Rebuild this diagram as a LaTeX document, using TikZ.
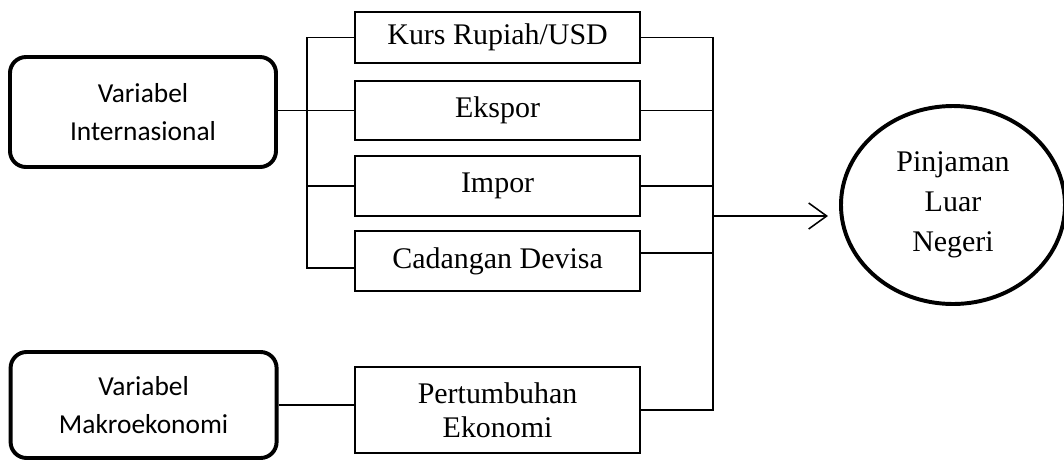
\documentclass[tikz,border=0pt]{standalone}
\usepackage{fontspec}
\setmainfont{Liberation Serif}
\newfontfamily\calibri{Carlito}
\usetikzlibrary{shapes.geometric,arrows.meta}

\begin{document}
\begin{tikzpicture}[
        var/.style={draw, line width=2.8pt, rounded corners=0.4cm, align=center,
            minimum width=6.65cm, font=\calibri\fontsize{19.5}{27}\selectfont},
        ind/.style={draw, line width=0.9pt, align=center, minimum width=7.125cm,
            font=\fontsize{21.3}{24.5}\selectfont},
        conn/.style={line width=1.1pt}
    ]
    \useasboundingbox (0,0) rectangle (26.6,-11.475);

    \node[var, minimum height=2.75cm] (intl) at (3.575, -2.8) {Variabel\\Internasional};
    \node[var, minimum height=2.65cm] (makro) at (3.59, -10.125) {Variabel\\Makroekonomi};

    \node[ind, minimum height=1.275cm] (kurs) at (12.44, -0.94) {Kurs Rupiah/USD};
    \node[ind, minimum height=1.475cm] (eks)  at (12.44, -2.76) {Ekspor};
    \node[ind, minimum height=1.5cm]   (imp)  at (12.44, -4.65) {Impor};
    \node[ind, minimum height=1.5cm]   (cad)  at (12.44, -6.525) {Cadangan Devisa};
    \node[ind, minimum height=2.15cm]  (pert) at (12.44, -10.25) {Pertumbuhan\\Ekonomi};

    \node[draw, ellipse, line width=2.8pt, inner sep=0pt, minimum width=5.6cm,
        minimum height=4.95cm, align=center, font=\fontsize{21.3}{28.5}\selectfont]
        (loan) at (23.825, -5.125) {Pinjaman\\Luar\\Negeri};

    \coordinate (busL) at (7.675, 0);
    \coordinate (busR) at (17.825, 0);
    \coordinate (tip)  at (20.7, -5.4);
    \coordinate (cadL) at ([yshift=-0.18cm]cad.west);
    \coordinate (cadR) at ([yshift=0.2cm]cad.east);

    \draw[conn] (intl.east |- eks.west) -- (eks.west);
    \draw[conn] (kurs.west) -- (kurs.west -| busL) -- (cadL -| busL) -- (cadL);
    \draw[conn] (imp.west) -- (imp.west -| busL);

    \draw[conn] (kurs.east) -- (kurs.east -| busR) -- (pert.east -| busR) -- (pert.east);
    \draw[conn] (eks.east) -- (eks.east -| busR);
    \draw[conn] (imp.east) -- (imp.east -| busR);
    \draw[conn] (cadR) -- (cadR -| busR);

    \draw[conn] (makro.east) -- (makro.east -| pert.west);
    \draw[conn, -{Straight Barb[length=4.5mm, width=6.5mm]}] (tip -| busR) -- (tip);
\end{tikzpicture}
\end{document}
